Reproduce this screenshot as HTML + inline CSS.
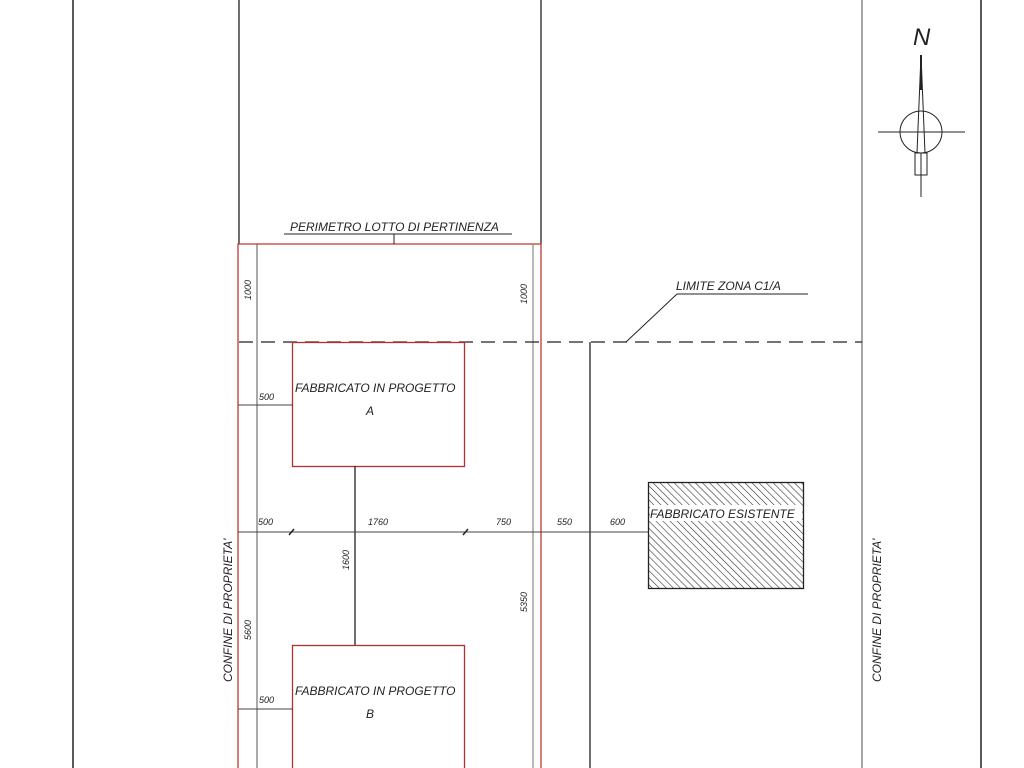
<!DOCTYPE html>
<html><head><meta charset="utf-8"><style>
html,body{margin:0;padding:0;background:#fff;width:1024px;height:768px;overflow:hidden}
svg{display:block}
text{font-family:"Liberation Sans",sans-serif;font-style:italic;fill:#222}
</style></head><body>
<svg width="1024" height="768" viewBox="0 0 1024 768" xmlns="http://www.w3.org/2000/svg">
<defs>
<pattern id="h" patternUnits="userSpaceOnUse" width="5" height="5" patternTransform="rotate(-45)">
<line x1="0" y1="0" x2="0" y2="5" stroke="#333" stroke-width="1.2"/>
</pattern>
</defs>
<line x1="73" y1="0" x2="73" y2="768" stroke="#222" stroke-width="1.5"/>
<line x1="981" y1="0" x2="981" y2="768" stroke="#222" stroke-width="1.5"/>
<line x1="862" y1="0" x2="862" y2="768" stroke="#777" stroke-width="1.3"/>
<line x1="239" y1="0" x2="239" y2="244" stroke="#222" stroke-width="1.3"/>
<line x1="541" y1="0" x2="541" y2="244" stroke="#222" stroke-width="1.3"/>
<polyline points="238,768 238,244 541,244 541,768" fill="none" stroke="#c0392b" stroke-width="1.3"/>
<text x="290" y="231" font-size="12">PERIMETRO LOTTO DI PERTINENZA</text>
<line x1="284" y1="234" x2="512" y2="234" stroke="#222" stroke-width="1"/>
<line x1="394" y1="234" x2="394" y2="244" stroke="#222" stroke-width="1"/>
<line x1="257" y1="244" x2="257" y2="768" stroke="#555" stroke-width="1"/>
<line x1="533" y1="244" x2="533" y2="768" stroke="#888" stroke-width="1.2"/>
<text transform="translate(251,300) rotate(-90)" font-size="9">1000</text>
<text transform="translate(527,304) rotate(-90)" font-size="9">1000</text>
<line x1="239" y1="342" x2="862" y2="342" stroke="#222" stroke-width="1.3" stroke-dasharray="14,8"/>
<polyline points="626,342 677,294 808,294" fill="none" stroke="#222" stroke-width="1"/>
<text x="676" y="290" font-size="12">LIMITE ZONA C1/A</text>
<line x1="590" y1="342" x2="590" y2="768" stroke="#222" stroke-width="1.3"/>
<rect x="292.5" y="342.5" width="172" height="124" fill="none" stroke="#b03030" stroke-width="1.3"/>
<text x="295" y="392" font-size="12">FABBRICATO IN PROGETTO</text>
<text x="366" y="415" font-size="12">A</text>
<line x1="238" y1="405" x2="292" y2="405" stroke="#444" stroke-width="1"/>
<text x="259" y="400" font-size="9">500</text>
<line x1="355" y1="466" x2="355" y2="645" stroke="#222" stroke-width="1.3"/>
<text transform="translate(349,570) rotate(-90)" font-size="9">1600</text>
<line x1="238" y1="532" x2="648" y2="532" stroke="#444" stroke-width="1"/>
<text x="258" y="525" font-size="9">500</text>
<text x="368" y="525" font-size="9">1760</text>
<text x="496" y="525" font-size="9">750</text>
<text x="557" y="525" font-size="9">550</text>
<text x="610" y="525" font-size="9">600</text>
<g stroke="#222" stroke-width="1.5">
<line x1="289" y1="535" x2="294" y2="529"/><line x1="463" y1="535" x2="468" y2="529"/>
</g>
<rect x="648.5" y="482.5" width="155" height="106" fill="url(#h)" stroke="#222" stroke-width="1.3"/>
<rect x="650" y="505" width="152" height="16" fill="#fff"/>
<text x="650" y="518" font-size="12">FABBRICATO ESISTENTE</text>
<rect x="292.5" y="645.5" width="172" height="130" fill="none" stroke="#b03030" stroke-width="1.3"/>
<text x="295" y="695" font-size="12">FABBRICATO IN PROGETTO</text>
<text x="366" y="718" font-size="12">B</text>
<line x1="238" y1="709" x2="292" y2="709" stroke="#444" stroke-width="1"/>
<text x="259" y="703" font-size="9">500</text>
<text transform="translate(251,640) rotate(-90)" font-size="9">5600</text>
<text transform="translate(527,612) rotate(-90)" font-size="9">5350</text>
<text transform="translate(232,682) rotate(-90)" font-size="12">CONFINE DI PROPRIETA'</text>
<text transform="translate(881,682) rotate(-90)" font-size="12">CONFINE DI PROPRIETA'</text>
<text x="913" y="45" font-size="24" style="font-style:italic">N</text>
<line x1="878" y1="132" x2="965" y2="132" stroke="#222" stroke-width="1"/>
<circle cx="921" cy="132" r="21" fill="none" stroke="#222" stroke-width="1"/>
<polygon points="921,55 917,153 925,153" fill="none" stroke="#222" stroke-width="1"/>
<line x1="921" y1="55" x2="921" y2="90" stroke="#222" stroke-width="2"/>
<rect x="915" y="153" width="12" height="22" fill="none" stroke="#222" stroke-width="1"/>
<line x1="921" y1="153" x2="921" y2="197" stroke="#222" stroke-width="1"/>
</svg>
</body></html>
